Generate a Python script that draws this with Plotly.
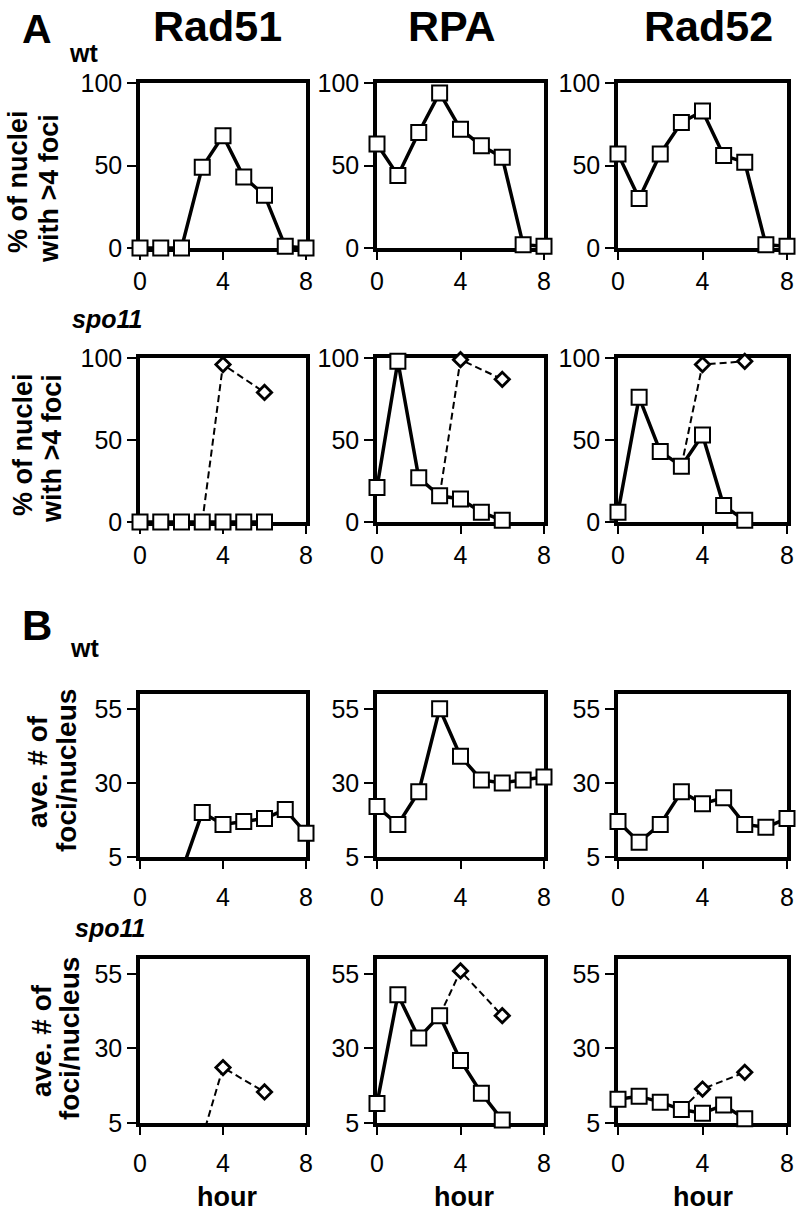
import plotly.graph_objects as go

# ---------------- data ----------------
hours = [0, 1, 2, 3, 4, 5, 6, 7, 8]
hours_spo11 = [0, 1, 2, 3, 4, 5, 6]
hours_alt = [4, 6]
proteins = ["Rad51", "RPA", "Rad52"]

# A: % of nuclei with >4 foci
wt_pct_rad51 = [0, 0, 0, 49, 68, 43, 32, 1, 0]
wt_pct_rpa = [63, 44, 70, 94, 72, 62, 55, 2, 1]
wt_pct_rad52 = [57, 30, 57, 76, 83, 56, 52, 2, 1]

spo11_pct_rad51 = [0, 0, 0, 0, 0, 0, 0]
spo11_pct_rpa = [21, 98, 27, 16, 14, 6, 1]
spo11_pct_rad52 = [6, 76, 43, 34, 53, 10, 1]

alt_pct_rad51 = [96, 79]
alt_pct_rpa = [99, 87]
alt_pct_rad52 = [96, 98]

# B: average # of foci/nucleus
wt_avg_rad51 = [0, 0, 0, 20, 16, 17, 18, 21, 13]
wt_avg_rpa = [22, 16, 27, 55, 39, 31, 30, 31, 32]
wt_avg_rad52 = [17, 10, 16, 27, 23, 25, 16, 15, 18]

spo11_avg_rad51 = [0, 0, 0, 0, 0, 0, 0]
spo11_avg_rpa = [11.5, 48, 33.5, 41, 26, 15, 6]
spo11_avg_rad52 = [13, 14, 12, 9.5, 8.3, 11, 6.4]

alt_avg_rad51 = [23.6, 15.4]
alt_avg_rpa = [56, 41]
alt_avg_rad52 = [16.4, 22]

x_ticks = [0, 4, 8]
y_ticks_pct = [0, 50, 100]
y_ticks_avg = [5, 30, 55]

# ---------------- layout geometry (page pixels) ----------------
W, H = 800, 1217

def px(x):
    return x / W

def py(y):
    return 1 - y / H

col_px = [(140, 306), (377, 544), (618, 787)]
row_px = [(83, 248), (358, 522), (694, 857), (959, 1123)]

FONT = "Liberation Sans, Arial, Helvetica, sans-serif"

panels = [
    (0, 0, hours, wt_pct_rad51, None, [0, 100], y_ticks_pct),
    (0, 1, hours, wt_pct_rpa, None, [0, 100], y_ticks_pct),
    (0, 2, hours, wt_pct_rad52, None, [0, 100], y_ticks_pct),
    (1, 0, hours_spo11, spo11_pct_rad51, alt_pct_rad51, [0, 100], y_ticks_pct),
    (1, 1, hours_spo11, spo11_pct_rpa, alt_pct_rpa, [0, 100], y_ticks_pct),
    (1, 2, hours_spo11, spo11_pct_rad52, alt_pct_rad52, [0, 100], y_ticks_pct),
    (2, 0, hours, wt_avg_rad51, None, [5, 60], y_ticks_avg),
    (2, 1, hours, wt_avg_rpa, None, [5, 60], y_ticks_avg),
    (2, 2, hours, wt_avg_rad52, None, [5, 60], y_ticks_avg),
    (3, 0, hours_spo11, spo11_avg_rad51, alt_avg_rad51, [5, 60], y_ticks_avg),
    (3, 1, hours_spo11, spo11_avg_rpa, alt_avg_rpa, [5, 60], y_ticks_avg),
    (3, 2, hours_spo11, spo11_avg_rad52, alt_avg_rad52, [5, 60], y_ticks_avg),
]

fig = go.Figure()
layout = dict(
    template="none",
    width=W, height=H,
    margin=dict(l=0, r=0, t=0, b=0, pad=0),
    paper_bgcolor="white", plot_bgcolor="white",
    showlegend=False,
    font=dict(family=FONT, color="black"),
)

line_traces = []
marker_traces = []
for i, (r, c, xs, ys, alt, yr, yt) in enumerate(panels, start=1):
    xa = "x" if i == 1 else f"x{i}"
    ya = "y" if i == 1 else f"y{i}"
    x0, x1 = col_px[c]
    y0, y1 = row_px[r]
    axis_common = dict(
        showline=True, linewidth=3.5, linecolor="black", mirror=True,
        ticks="outside", tickwidth=2, tickcolor="black",
        showgrid=False, zeroline=False, automargin=False,
        tickfont=dict(family=FONT, size=25, color="black"),
        layer="below traces",
    )
    layout["xaxis" if i == 1 else f"xaxis{i}"] = dict(
        axis_common, domain=[px(x0), px(x1)], range=[0, 8],
        tickvals=x_ticks, ticklen=8, anchor=ya,
        ticklabelstandoff=(7 if r >= 2 else 0),
    )
    layout["yaxis" if i == 1 else f"yaxis{i}"] = dict(
        axis_common, domain=[py(y1), py(y0)], range=yr,
        tickvals=yt, ticklen=9, anchor=xa,
    )
    line_traces.append(go.Scatter(
        x=xs, y=ys, mode="lines", xaxis=xa, yaxis=ya,
        line=dict(color="black", width=3.5), cliponaxis=True,
        hoverinfo="skip"))
    if alt is not None:
        line_traces.append(go.Scatter(
            x=[xs[3]] + hours_alt, y=[ys[3]] + alt, mode="lines",
            xaxis=xa, yaxis=ya,
            line=dict(color="black", width=2, dash="7px,4px"),
            cliponaxis=True, hoverinfo="skip"))
    vis = [(x, y) for x, y in zip(xs, ys) if y >= yr[0]]
    if vis:
        marker_traces.append(go.Scatter(
            x=[p[0] for p in vis], y=[p[1] for p in vis], mode="markers",
            xaxis=xa, yaxis=ya,
            marker=dict(symbol="square", size=15, color="white",
                        line=dict(color="black", width=2)),
            cliponaxis=False))
    if alt is not None:
        marker_traces.append(go.Scatter(
            x=hours_alt, y=alt, mode="markers", xaxis=xa, yaxis=ya,
            marker=dict(symbol="diamond", size=11, color="white",
                        line=dict(color="black", width=2.8)),
            cliponaxis=False))

for t in line_traces + marker_traces:
    fig.add_trace(t)

ann = []
def A(text, x, y, size, bold=True, italic=False, angle=0):
    t = text
    if italic:
        t = f"<i>{t}</i>"
    if bold:
        t = f"<b>{t}</b>"
    ann.append(dict(text=t, x=px(x), y=py(y), xref="paper", yref="paper",
                    xanchor="center", yanchor="middle", showarrow=False,
                    textangle=angle,
                    font=dict(family=FONT, size=size, color="black")))

# column titles
for name, cx in zip(proteins, [217, 452, 708]):
    A(name, cx, 26, 43)
# panel letters and genotype labels
A("A", 37, 29, 41)
A("wt", 83, 53, 25)
A("spo11", 107, 319, 25, italic=True)
A("B", 37, 625, 42)
A("wt", 84, 648, 25)
A("spo11", 110, 928, 25, italic=True)
# y-axis titles (one annotation per line)
A("% of nuclei", 18, 182, 27, angle=-90)
A("with >4 foci", 49, 189, 27, angle=-90)
A("% of nuclei", 23, 445, 27, angle=-90)
A("with >4 foci", 52, 449, 27, angle=-90)
A("ave. # of", 37, 772, 28, angle=-90)
A("foci/nucleus", 66, 771, 28, angle=-90)
A("ave. # of", 41, 1041, 28, angle=-90)
A("foci/nucleus", 69, 1039, 28, angle=-90)
# x-axis titles
for cx in [227, 464, 703]:
    A("hour", cx, 1197, 27)

layout["annotations"] = ann
fig.update_layout(**layout)
# the figure fills the whole 800x1217 window: drop the default page margin
fig.write_html("out.html",
               config={"displayModeBar": False},
               post_script="document.body.style.margin='0px';")
